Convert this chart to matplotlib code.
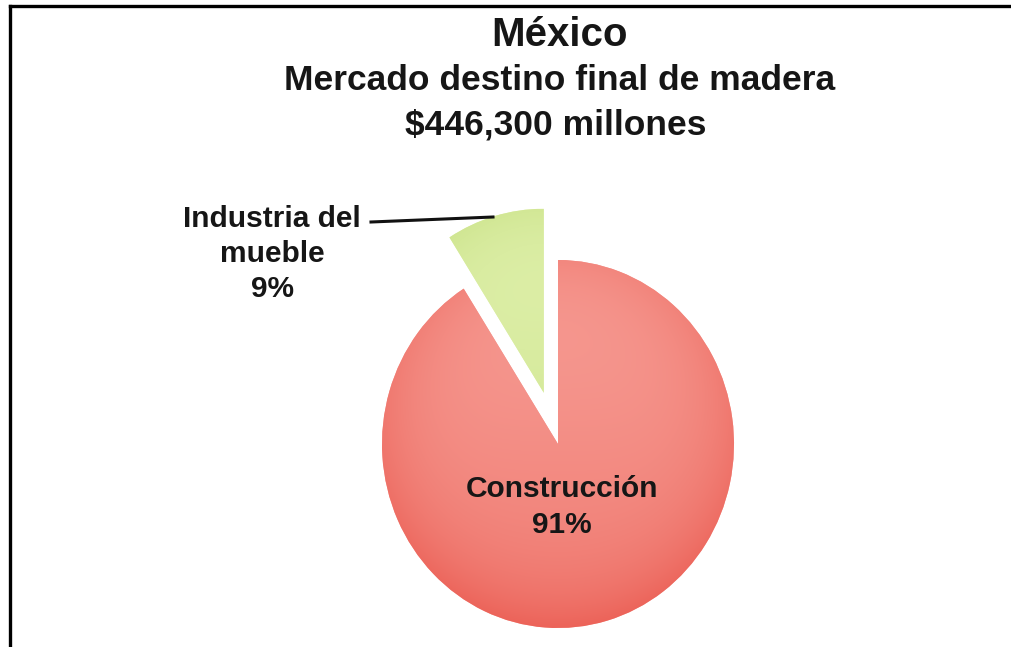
import matplotlib; matplotlib.use('Agg')
import numpy as np
from matplotlib import pyplot as plt
from matplotlib.colors import to_rgb

plt.rcParams.update({
    'font.family': ['Liberation Sans', 'DejaVu Sans'],
    'font.weight': 'bold',
})

# Destino final de la madera en México
sectors = ['Construcción', 'Industria del\nmueble']
shares = [91, 9]
title_lines = ['México', 'Mercado destino final de madera', '$446,300 millones']

# light / dark shade of each slice
light = ['#f7a098', '#e2f2b0']
dark = ['#ec6359', '#bbd86f']

W, H = 1011, 647
fig = plt.figure(figsize=(W / 100, H / 100), dpi=100)
ax = fig.add_axes([0, 0, 1, 1])

# pie centre and radii in pixels (slightly taller than wide)
RX, RY = 176, 184
cx, cy = 558, 444

wedges, _ = ax.pie(shares, startangle=90, counterclock=False,
                   explode=[0, 0.29], colors=light,
                   wedgeprops=dict(linewidth=0))

# soft shading inside every slice
n = 400
for w, c0, c1 in zip(wedges, light, dark):
    x0, y0 = w.center
    gx, gy = np.meshgrid(np.linspace(x0 - 1, x0 + 1, n),
                         np.linspace(y0 - 1, y0 + 1, n))
    d = np.clip(np.hypot(gx - x0, gy - y0), 0, 1)
    t = (y0 + 1 - gy) / 2
    s = np.clip(0.6 * t + 0.4 * d ** 4, 0, 1)[..., None]
    img = (1 - s) * np.array(to_rgb(c0)) + s * np.array(to_rgb(c1))
    im = ax.imshow(img, extent=[x0 - 1, x0 + 1, y0 - 1, y0 + 1],
                   origin='lower', interpolation='bilinear', zorder=2)
    im.set_clip_path(w)

ax.set_xlim(-cx / RX, (W - cx) / RX)
ax.set_ylim(-(H - cy) / RY, cy / RY)
ax.set_aspect('auto')
ax.axis('off')


def px(x, y):
    return x / W, 1 - y / H


txt = '#161616'

# title block
fig.text(*px(559, 46), title_lines[0], fontsize=29, ha='center',
         va='baseline', color=txt)
fig.text(*px(560, 90), title_lines[1], fontsize=25.5, ha='center',
         va='baseline', color=txt)
fig.text(*px(556, 134), title_lines[2], fontsize=25.5, ha='center',
         va='baseline', color=txt)

# slice labels
big = sectors[0].split('\n') + ['%d%%' % shares[0]]
for line, y in zip(big, [497, 533]):
    fig.text(*px(562, y), line, fontsize=21.5, ha='center',
             va='baseline', color=txt, zorder=5)

small = sectors[1].split('\n') + ['%d%%' % shares[1]]
for line, y in zip(small, [227, 262, 297]):
    fig.text(*px(272, y), line, fontsize=21.5, ha='center',
             va='baseline', color=txt)

# leader line to the small slice
fig.add_artist(plt.Line2D([371 / W, 493 / W], [1 - 222 / H, 1 - 217 / H],
                          color='#111111', lw=2.2))

# frame (top and left edges)
fig.add_artist(plt.Line2D([10 / W, 1], [1 - 6 / H, 1 - 6 / H],
                          color='black', lw=2.4))
fig.add_artist(plt.Line2D([10 / W, 10 / W], [0, 1 - 6 / H],
                          color='black', lw=2.4))

fig.savefig('out.png', dpi=100, facecolor='white')
plt.close(fig)
